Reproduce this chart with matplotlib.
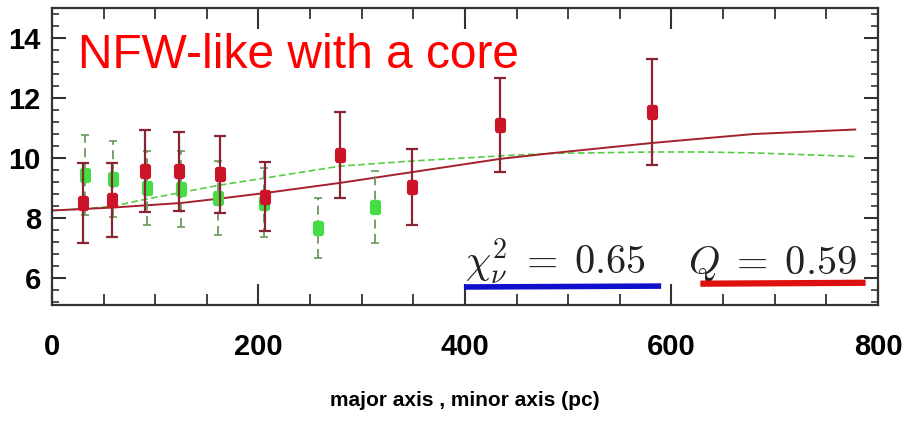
import numpy as np
import matplotlib.pyplot as plt
from matplotlib.ticker import MultipleLocator

plt.rcParams['mathtext.fontset'] = 'cm'

# major axis points (red) and minor axis points (green): radius (pc), value, error
major_r = [30, 58, 90, 123, 163, 206, 279, 349, 434, 581]
major_v = [8.5, 8.6, 9.57, 9.55, 9.45, 8.7, 10.1, 9.03, 11.1, 11.52]
major_e = [1.33, 1.22, 1.37, 1.32, 1.3, 1.15, 1.42, 1.27, 1.58, 1.77]

minor_r = [32, 59, 92, 125, 161, 205, 258, 313]
minor_v = [9.43, 9.3, 9.0, 8.97, 8.67, 8.5, 7.67, 8.38]
minor_e = [1.33, 1.27, 1.23, 1.27, 1.23, 1.15, 1.0, 1.2]

# model curves
model_r = [0, 30, 60, 90, 125, 163, 206, 279, 349, 434, 481, 581, 630, 680, 778]
major_model = [8.25, 8.3, 8.35, 8.42, 8.5, 8.65, 8.83, 9.17, 9.53, 9.97, 10.15, 10.5, 10.65, 10.8, 10.95]
minor_model = [8.25, 8.3, 8.4, 8.62, 8.85, 9.1, 9.33, 9.73, 9.9, 10.07, 10.15, 10.2, 10.2, 10.17, 10.05]

tick_font = ['Liberation Sans', 'DejaVu Sans']
# rounded tall marker
pill = [(-0.7, -0.8), (-0.5, -1), (0.5, -1), (0.7, -0.8), (0.7, 0.8),
        (0.5, 1), (-0.5, 1), (-0.7, 0.8), (-0.7, -0.8)]

fig = plt.figure(figsize=(9.1, 4.22), dpi=100)
ax = fig.add_axes([0.0571, 0.2773, 0.9077, 0.7037])

ax.plot(model_r, minor_model, color='#55cc44', lw=1.2, ls=(0, (4, 2)), zorder=2)
ax.plot(model_r, major_model, color='#a3202c', lw=1.4, zorder=2)

eb = ax.errorbar(minor_r, minor_v, yerr=minor_e, fmt='none', ecolor='#6a9a5a',
                 elinewidth=1.3, capsize=3, capthick=1.2, zorder=3)
eb[2][0].set_linestyle((0, (5, 3)))
ax.plot(minor_r, minor_v, ls='none', marker=pill, ms=10, color='#44dd44', zorder=4)

ax.errorbar(major_r, major_v, yerr=major_e, fmt='none', ecolor='#8a2434',
            elinewidth=1.6, capsize=4, capthick=1.6, zorder=5)
ax.plot(major_r, major_v, ls='none', marker=pill, ms=10, color='#cc1428', zorder=6)

ax.set_xlim(0, 800)
ax.set_ylim(5.1, 15.0)
ax.xaxis.set_major_locator(MultipleLocator(200))
ax.xaxis.set_minor_locator(MultipleLocator(50))
ax.yaxis.set_major_locator(MultipleLocator(2))
ax.yaxis.set_minor_locator(MultipleLocator(0.4))
ax.tick_params(which='both', direction='in', top=True, right=True, color='#333333')
ax.tick_params(axis='x', which='major', length=15, width=1.5, pad=20)
ax.tick_params(axis='x', which='minor', length=8, width=1.3)
ax.tick_params(axis='y', which='major', length=10, width=1.5, pad=8)
ax.tick_params(axis='y', which='minor', length=5, width=1.2)
for s in ax.spines.values():
    s.set_color('#333333')
    s.set_linewidth(1.6)

for lab in ax.get_xticklabels() + ax.get_yticklabels():
    lab.set_family(tick_font)
    lab.set_fontweight('bold')
    lab.set_fontsize(21)

ax.set_xlabel('major axis , minor axis (pc)', family=tick_font, fontweight='bold',
              fontsize=15, labelpad=22)

ax.text(0.032, 0.798, 'NFW-like with a core', transform=ax.transAxes, color='#ff0000',
        family=['Liberation Sans', 'DejaVu Sans'], fontsize=34.5, va='baseline', ha='left')

ax.text(0.500, 0.105, r'$\chi^2_\nu \;=\; 0.65$', transform=ax.transAxes, fontsize=29,
        color='#222222', ha='left', va='baseline')
ax.text(0.770, 0.105, r'$Q \;=\; 0.59$', transform=ax.transAxes, fontsize=29,
        color='#222222', ha='left', va='baseline')

# coloured bars under the fit statistics
ax.plot([399, 590], [5.70, 5.73], color='#1010cc', lw=4, solid_capstyle='butt', zorder=7)
ax.plot([628, 788], [5.81, 5.84], color='#dd1010', lw=4.5, solid_capstyle='butt', zorder=7)

fig.savefig('out.png', dpi=100, facecolor='white')
